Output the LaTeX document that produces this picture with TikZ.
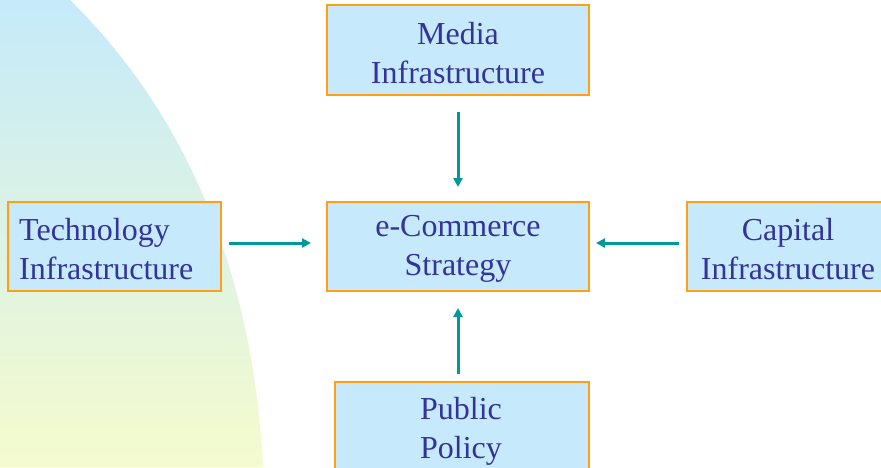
\documentclass[tikz,border=0pt]{standalone}
\usepackage{fontspec}
\setmainfont{Liberation Serif}
\usetikzlibrary{arrows.meta}
\definecolor{boxfill}{RGB}{198,233,251}
\definecolor{boxline}{RGB}{255,160,20}
\definecolor{txt}{RGB}{51,51,153}
\definecolor{arr}{RGB}{0,153,153}
\definecolor{bgtop}{RGB}{197,234,250}
\definecolor{bgbot}{RGB}{245,251,205}
\tikzset{
  box/.style={draw=boxline, line width=1.2pt, fill=boxfill, text=txt, inner sep=0pt,
    font=\fontsize{32}{39}\selectfont},
  lbl/.style={text=txt, font=\fontsize{32}{39}\selectfont, inner sep=0pt},
  link/.style={draw=arr, line width=3pt, -{Triangle[length=9pt,width=9pt]}}
}
\begin{document}
\begin{tikzpicture}[x=1pt,y=-1pt]
\useasboundingbox (0,0) rectangle (881,467);
\begin{scope}
\clip (0,0) rectangle (881,467);
\shade[top color=bgtop, bottom color=bgbot, shading angle=0]
  (0,0) -- (70,0) .. controls (172,100) and (252,250) .. (263,467) -- (0,467) -- cycle;
\node[box, minimum width=262pt, minimum height=90pt] (media) at (458,50) {};
\node[lbl, align=center] (mediat) at (458,53) {Media\\Infrastructure};
\node[box, minimum width=262pt, minimum height=89pt] (ecom) at (458,246.5) {};
\node[lbl, align=center] (ecomt) at (458,249) {e-Commerce\\Strategy};
\node[box, minimum width=213pt, minimum height=89pt] (tech) at (114.5,246.5) {};
\node[lbl, align=left, anchor=west] (techt) at (19,249) {Technology\\Infrastructure};
\node[box, minimum width=204pt, minimum height=89pt] (cap) at (789,246.5) {};
\node[lbl, align=center] (capt) at (788,249) {Capital\\Infrastructure};
\node[box, minimum width=254pt, minimum height=110pt] (pub) at (462,437) {};
\node[lbl, align=center] (pubt) at (461,431) {Public\\Policy};
\end{scope}
\coordinate (a1s) at (229,243);
\coordinate (a1e) at (311,243);
\coordinate (a2s) at (679,243);
\coordinate (a2e) at (596,243);
\coordinate (a3s) at (458,112);
\coordinate (a3e) at (458,187);
\coordinate (a4s) at (458,374);
\coordinate (a4e) at (458,308);
\draw[link] (a1s) -- (a1e);
\draw[link] (a2s) -- (a2e);
\draw[link] (a3s) -- (a3e);
\draw[link] (a4s) -- (a4e);
\end{tikzpicture}
\end{document}
